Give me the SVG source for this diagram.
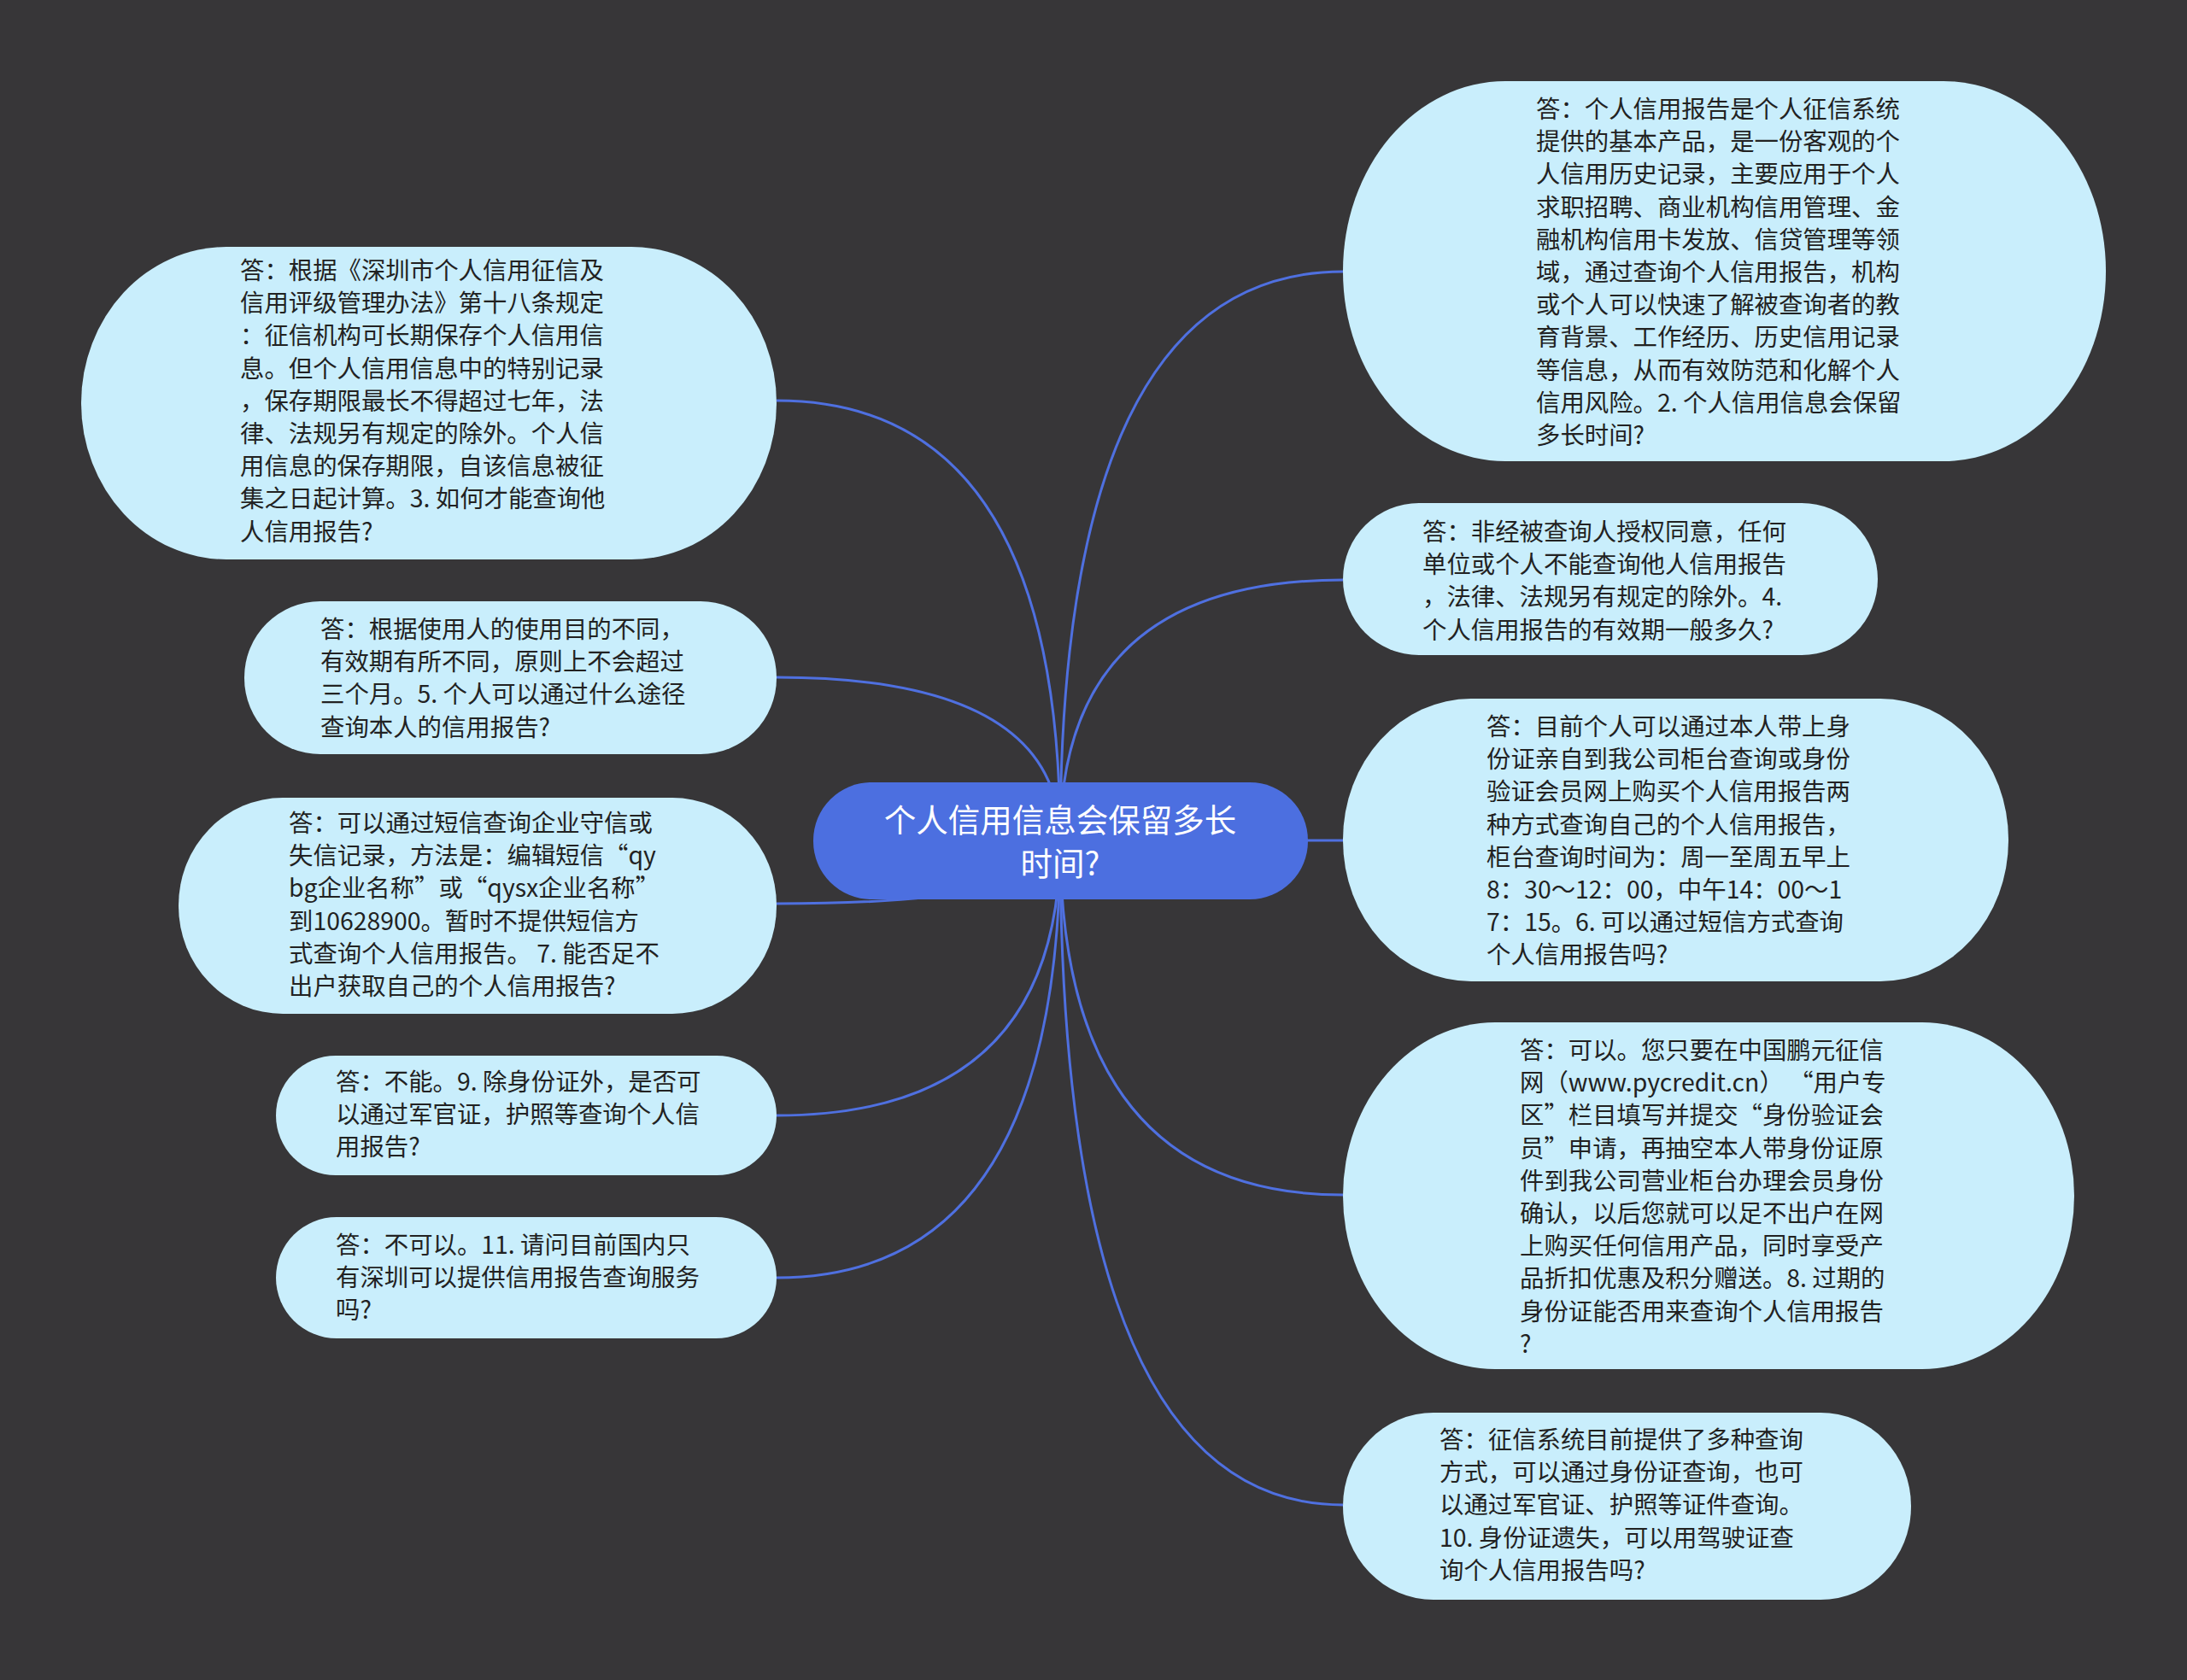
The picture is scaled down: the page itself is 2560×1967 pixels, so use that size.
<svg xmlns="http://www.w3.org/2000/svg" width="2560" height="1967" viewBox="0 0 2560 1967">
<style>
.bg{fill:#373638}
.node rect{fill:#c9eefc}
.node text{font-family:"Noto Sans CJK SC","Noto Sans",sans-serif;font-size:28.4px;fill:#222}
.root rect{fill:#4c6fe0}
.root text{font-family:"Noto Sans CJK SC","Noto Sans",sans-serif;font-size:37.5px;fill:#ffffff;text-anchor:middle}
.conn path{fill:none;stroke:#4f70e0;stroke-width:3}
</style>
<rect class="bg" x="0" y="0" width="2560" height="1967"/>
<g id="connectors" class="conn">
<path d="M909,469 Q1241,469 1241,984"/>
<path d="M909,793 Q1241,793 1241,984"/>
<path d="M909,1058 Q1241,1058 1241,984"/>
<path d="M909,1306 Q1241,1306 1241,984"/>
<path d="M909,1496 Q1241,1496 1241,984"/>
<path d="M1572,318 Q1241,318 1241,984"/>
<path d="M1572,679 Q1241,679 1241,984"/>
<path d="M1572,984 L1241,984"/>
<path d="M1572,1399 Q1241,1399 1241,984"/>
<path d="M1572,1762 Q1241,1762 1241,984"/>
</g>
<g id="root" class="root">
<rect x="952" y="916" width="579" height="137" rx="68" ry="68"/>
<text x="1241" y="974"><tspan x="1241">个人信用信息会保留多长</tspan><tspan x="1241" dy="51">时间?</tspan></text>
</g>
<g id="node-l1" class="node">
<rect x="95" y="289" width="814" height="366" rx="170" ry="183"/>
<text x="281" y="327"><tspan x="281">答：根据《深圳市个人信用征信及</tspan><tspan x="281" dy="38.2">信用评级管理办法》第十八条规定</tspan><tspan x="281" dy="38.2">：征信机构可长期保存个人信用信</tspan><tspan x="281" dy="38.2">息。但个人信用信息中的特别记录</tspan><tspan x="281" dy="38.2">，保存期限最长不得超过七年，法</tspan><tspan x="281" dy="38.2">律、法规另有规定的除外。个人信</tspan><tspan x="281" dy="38.2">用信息的保存期限，自该信息被征</tspan><tspan x="281" dy="38.2">集之日起计算。3. 如何才能查询他</tspan><tspan x="281" dy="38.2">人信用报告?</tspan></text>
</g>
<g id="node-l2" class="node">
<rect x="286" y="704" width="623" height="179" rx="89" ry="89"/>
<text x="375" y="747"><tspan x="375">答：根据使用人的使用目的不同，</tspan><tspan x="375" dy="38.2">有效期有所不同，原则上不会超过</tspan><tspan x="375" dy="38.2">三个月。5. 个人可以通过什么途径</tspan><tspan x="375" dy="38.2">查询本人的信用报告?</tspan></text>
</g>
<g id="node-l3" class="node">
<rect x="209" y="934" width="700" height="253" rx="122" ry="126"/>
<text x="338" y="974"><tspan x="338">答：可以通过短信查询企业守信或</tspan><tspan x="338" dy="38.2">失信记录，方法是：编辑短信“qy</tspan><tspan x="338" dy="38.2">bg企业名称”或“qysx企业名称”</tspan><tspan x="338" dy="38.2">到10628900。暂时不提供短信方</tspan><tspan x="338" dy="38.2">式查询个人信用报告。 7. 能否足不</tspan><tspan x="338" dy="38.2">出户获取自己的个人信用报告?</tspan></text>
</g>
<g id="node-l4" class="node">
<rect x="323" y="1236" width="586" height="140" rx="70" ry="70"/>
<text x="393" y="1277"><tspan x="393">答：不能。9. 除身份证外，是否可</tspan><tspan x="393" dy="38.2">以通过军官证，护照等查询个人信</tspan><tspan x="393" dy="38.2">用报告?</tspan></text>
</g>
<g id="node-l5" class="node">
<rect x="323" y="1425" width="586" height="142" rx="71" ry="71"/>
<text x="393" y="1468"><tspan x="393">答：不可以。11. 请问目前国内只</tspan><tspan x="393" dy="38.2">有深圳可以提供信用报告查询服务</tspan><tspan x="393" dy="38.2">吗?</tspan></text>
</g>
<g id="node-r1" class="node">
<rect x="1572" y="95" width="893" height="445" rx="190" ry="222"/>
<text x="1798" y="138"><tspan x="1798">答：个人信用报告是个人征信系统</tspan><tspan x="1798" dy="38.2">提供的基本产品，是一份客观的个</tspan><tspan x="1798" dy="38.2">人信用历史记录，主要应用于个人</tspan><tspan x="1798" dy="38.2">求职招聘、商业机构信用管理、金</tspan><tspan x="1798" dy="38.2">融机构信用卡发放、信贷管理等领</tspan><tspan x="1798" dy="38.2">域，通过查询个人信用报告，机构</tspan><tspan x="1798" dy="38.2">或个人可以快速了解被查询者的教</tspan><tspan x="1798" dy="38.2">育背景、工作经历、历史信用记录</tspan><tspan x="1798" dy="38.2">等信息，从而有效防范和化解个人</tspan><tspan x="1798" dy="38.2">信用风险。2. 个人信用信息会保留</tspan><tspan x="1798" dy="38.2">多长时间?</tspan></text>
</g>
<g id="node-r2" class="node">
<rect x="1572" y="589" width="626" height="178" rx="89" ry="89"/>
<text x="1665" y="633"><tspan x="1665">答：非经被查询人授权同意，任何</tspan><tspan x="1665" dy="38.2">单位或个人不能查询他人信用报告</tspan><tspan x="1665" dy="38.2">，法律、法规另有规定的除外。4.</tspan><tspan x="1665" dy="38.2">个人信用报告的有效期一般多久?</tspan></text>
</g>
<g id="node-r3" class="node">
<rect x="1572" y="818" width="779" height="331" rx="150" ry="165"/>
<text x="1740" y="861"><tspan x="1740">答：目前个人可以通过本人带上身</tspan><tspan x="1740" dy="38.2">份证亲自到我公司柜台查询或身份</tspan><tspan x="1740" dy="38.2">验证会员网上购买个人信用报告两</tspan><tspan x="1740" dy="38.2">种方式查询自己的个人信用报告，</tspan><tspan x="1740" dy="38.2">柜台查询时间为：周一至周五早上</tspan><tspan x="1740" dy="38.2">8：30～12：00，中午14：00～1</tspan><tspan x="1740" dy="38.2">7：15。6. 可以通过短信方式查询</tspan><tspan x="1740" dy="38.2">个人信用报告吗?</tspan></text>
</g>
<g id="node-r4" class="node">
<rect x="1572" y="1197" width="856" height="406" rx="178" ry="203"/>
<text x="1779" y="1240"><tspan x="1779">答：可以。您只要在中国鹏元征信</tspan><tspan x="1779" dy="38.2">网（www.pycredit.cn） “用户专</tspan><tspan x="1779" dy="38.2">区”栏目填写并提交“身份验证会</tspan><tspan x="1779" dy="38.2">员”申请，再抽空本人带身份证原</tspan><tspan x="1779" dy="38.2">件到我公司营业柜台办理会员身份</tspan><tspan x="1779" dy="38.2">确认，以后您就可以足不出户在网</tspan><tspan x="1779" dy="38.2">上购买任何信用产品，同时享受产</tspan><tspan x="1779" dy="38.2">品折扣优惠及积分赠送。8. 过期的</tspan><tspan x="1779" dy="38.2">身份证能否用来查询个人信用报告</tspan><tspan x="1779" dy="38.2">?</tspan></text>
</g>
<g id="node-r5" class="node">
<rect x="1572" y="1654" width="665" height="219" rx="106" ry="109"/>
<text x="1685" y="1696"><tspan x="1685">答：征信系统目前提供了多种查询</tspan><tspan x="1685" dy="38.2">方式，可以通过身份证查询，也可</tspan><tspan x="1685" dy="38.2">以通过军官证、护照等证件查询。</tspan><tspan x="1685" dy="38.2">10. 身份证遗失，可以用驾驶证查</tspan><tspan x="1685" dy="38.2">询个人信用报告吗?</tspan></text>
</g>
</svg>
